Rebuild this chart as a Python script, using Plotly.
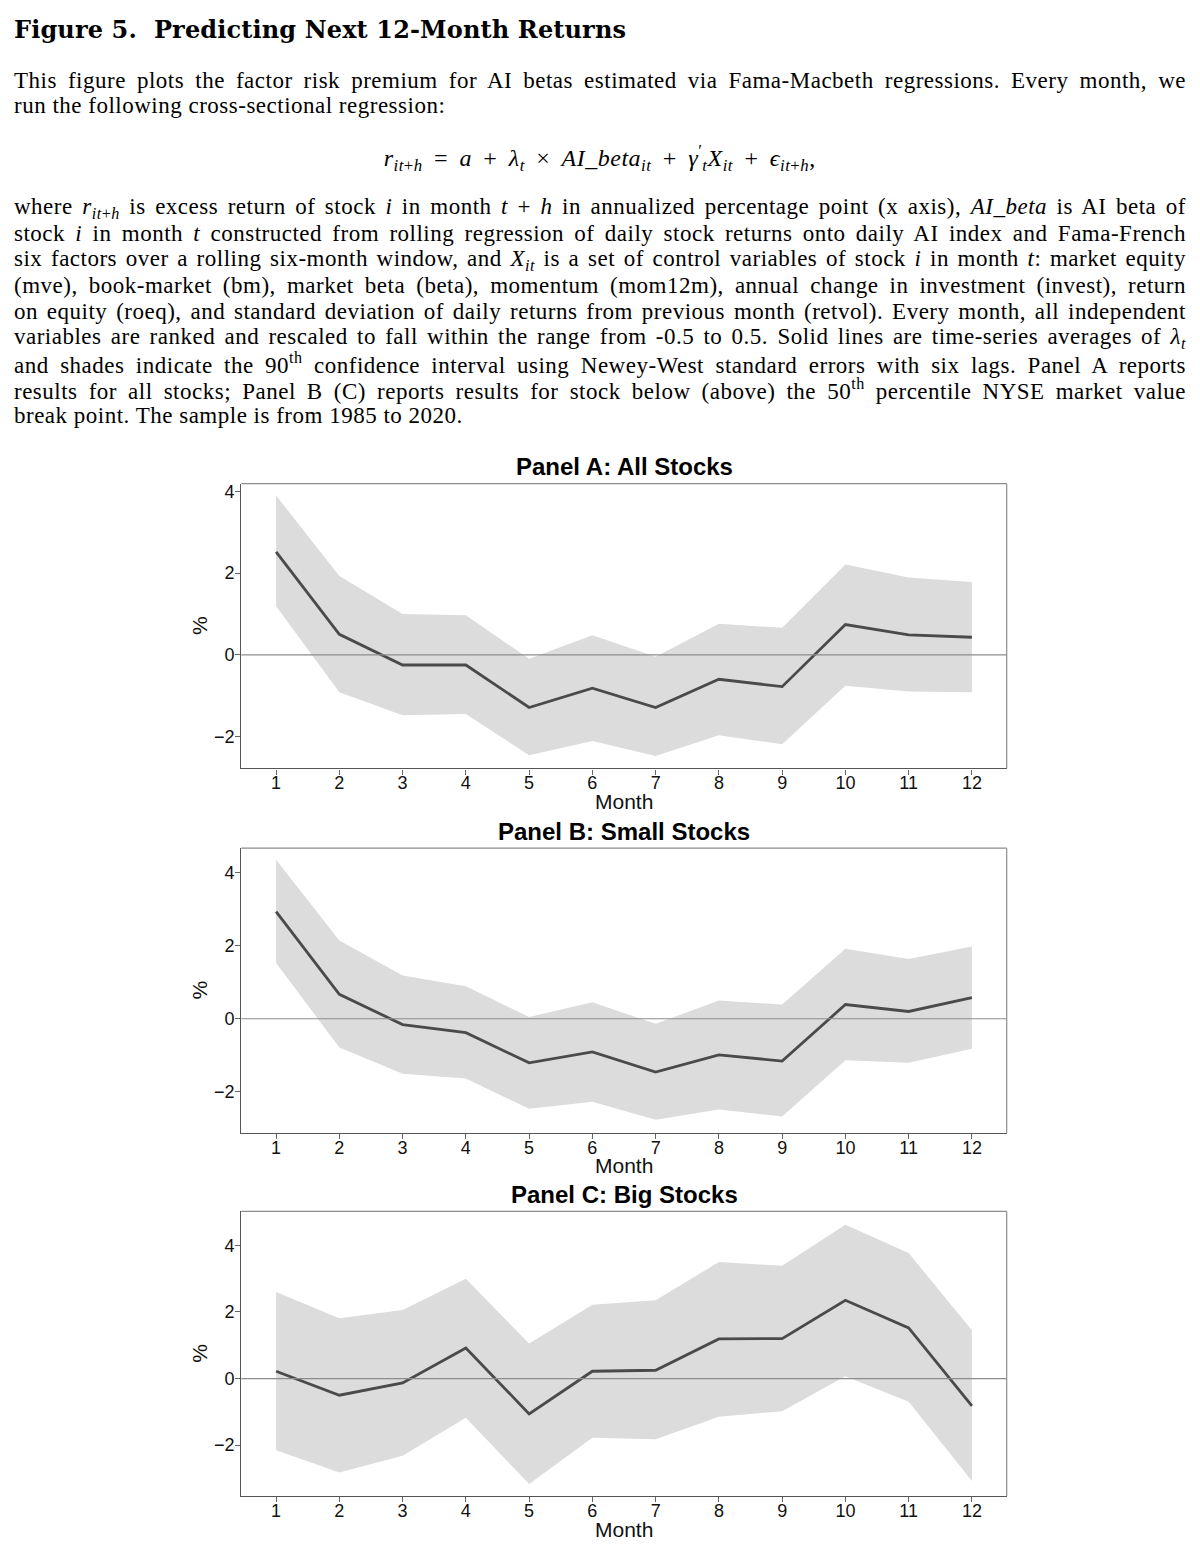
import json
import plotly.graph_objects as go

# ---------------- data ----------------
months = list(range(1, 13))
month_labels = [str(m) for m in months]
y_ticks = [-2, 0, 2, 4]

panel_titles = ["Panel A: All Stocks", "Panel B: Small Stocks", "Panel C: Big Stocks"]

a_mean = [2.52, 0.50, -0.25, -0.25, -1.29, -0.82, -1.29, -0.60, -0.78, 0.74, 0.49, 0.43]
a_upper = [3.90, 1.93, 1.00, 0.97, -0.10, 0.48, -0.05, 0.76, 0.66, 2.21, 1.89, 1.78]
a_lower = [1.19, -0.92, -1.48, -1.45, -2.46, -2.11, -2.48, -1.97, -2.19, -0.76, -0.90, -0.92]

b_mean = [2.94, 0.67, -0.16, -0.38, -1.21, -0.91, -1.46, -0.99, -1.16, 0.39, 0.20, 0.58]
b_upper = [4.36, 2.15, 1.19, 0.89, 0.05, 0.45, -0.14, 0.50, 0.39, 1.92, 1.64, 1.98]
b_lower = [1.53, -0.79, -1.51, -1.64, -2.47, -2.28, -2.77, -2.49, -2.68, -1.14, -1.21, -0.82]

c_mean = [0.22, -0.50, -0.13, 0.92, -1.06, 0.22, 0.25, 1.19, 1.20, 2.35, 1.52, -0.82]
c_upper = [2.60, 1.81, 2.06, 3.00, 1.05, 2.22, 2.35, 3.50, 3.39, 4.62, 3.77, 1.45]
c_lower = [-2.15, -2.82, -2.32, -1.18, -3.17, -1.78, -1.82, -1.15, -0.98, 0.07, -0.70, -3.08]

y_ranges = [[-2.78, 4.19], [-3.13, 4.68], [-3.53, 5.02]]
x_range = [0.45, 12.55]

caption_title = "Figure 5.  Predicting Next 12-Month Returns"
para1 = [
    "This figure plots the factor risk premium for AI betas estimated via Fama-Macbeth regressions. Every month, we",
    "run the following cross-sectional regression:",
]
equation = ("<i>r</i><sub><i>it</i>+<i>h</i></sub> = <i>a</i> + <i>λ</i><sub><i>t</i></sub> × "
            "<i>AI_beta</i><sub><i>it</i></sub> + <i>γ</i><sup>′</sup><sub><i>t</i></sub><i>X</i><sub><i>it</i></sub>"
            " + <i>ϵ</i><sub><i>it</i>+<i>h</i></sub>,")
para2 = [
    "where <i>r</i><sub><i>it</i>+<i>h</i></sub> is excess return of stock <i>i</i> in month <i>t</i> + <i>h</i> in annualized percentage point (x axis), <i>AI_beta</i> is AI beta of",
    "stock <i>i</i> in month <i>t</i> constructed from rolling regression of daily stock returns onto daily AI index and Fama-French",
    "six factors over a rolling six-month window, and <i>X</i><sub><i>it</i></sub> is a set of control variables of stock <i>i</i> in month <i>t</i>: market equity",
    "(mve), book-market (bm), market beta (beta), momentum (mom12m), annual change in investment (invest), return",
    "on equity (roeq), and standard deviation of daily returns from previous month (retvol). Every month, all independent",
    "variables are ranked and rescaled to fall within the range from -0.5 to 0.5. Solid lines are time-series averages of <i>λ</i><sub><i>t</i></sub>",
    "and shades indicate the 90<sup>th</sup> confidence interval using Newey-West standard errors with six lags. Panel A reports",
    "results for all stocks; Panel B (C) reports results for stock below (above) the 50<sup>th</sup> percentile NYSE market value",
    "break point. The sample is from 1985 to 2020.",
]

panels = [(a_mean, a_upper, a_lower), (b_mean, b_upper, b_lower), (c_mean, c_upper, c_lower)]

# ---------------- layout geometry (pixels) ----------------
W, H = 1200, 1552
box_left, box_right = 241.3, 1006.7
box_tops = [482.3, 847.3, 1211.0]
box_h = 285.0
text_left, text_right = 14, 1186

def py(v):
    return 1 - v / H

def px(v):
    return v / W

SERIF = "Liberation Serif"
SANS = "Liberation Sans"
shade = "#dcdcdc"
line_col = "#4a4a4a"

fig = go.Figure()
annotations = []
shapes = []
spacing = {}   # annotation index -> [letter spacing px, justify mode, target width]

for i, (mean, upper, lower) in enumerate(panels):
    xa = "x" if i == 0 else f"x{i+1}"
    ya = "y" if i == 0 else f"y{i+1}"
    fig.add_trace(go.Scatter(x=months, y=lower, mode="lines", line=dict(width=0, color=shade),
                             xaxis=xa, yaxis=ya, showlegend=False, hoverinfo="skip"))
    fig.add_trace(go.Scatter(x=months, y=upper, mode="lines", line=dict(width=0, color=shade),
                             fill="tonexty", fillcolor=shade,
                             xaxis=xa, yaxis=ya, showlegend=False, hoverinfo="skip"))
    fig.add_trace(go.Scatter(x=months, y=mean, mode="lines", line=dict(width=2.8, color=line_col),
                             xaxis=xa, yaxis=ya, showlegend=False))

    top = box_tops[i]
    bot = top + box_h
    xkey = "xaxis" if i == 0 else f"xaxis{i+1}"
    ykey = "yaxis" if i == 0 else f"yaxis{i+1}"
    fig.layout[xkey] = dict(
        domain=[px(box_left), px(box_right)], anchor=ya, range=x_range,
        tickmode="array", tickvals=months, ticktext=month_labels,
        showgrid=False, zeroline=False, showline=True, linecolor="#555555", linewidth=1.4,
        ticks="outside", ticklen=5, tickcolor="#666666", tickwidth=1,
        ticklabelstandoff=-7,
        tickfont=dict(family=SANS, size=18, color="#111111"),
    )
    fig.layout[ykey] = dict(
        domain=[py(bot), py(top)], anchor=xa, range=y_ranges[i],
        tickmode="array", tickvals=y_ticks,
        showgrid=False, zeroline=False, showline=True, linecolor="#555555", linewidth=1.4,
        ticks="outside", ticklen=5, tickcolor="#666666", tickwidth=1,
        ticklabelstandoff=-3,
        tickfont=dict(family=SANS, size=18, color="#111111"),
    )
    # zero reference line
    shapes.append(dict(type="line", xref=f"{xa} domain", yref=ya, x0=0, x1=1, y0=0, y1=0,
                       line=dict(color="#8c8c8c", width=1.2), layer="above"))
    # top and right frame
    shapes.append(dict(type="line", xref=f"{xa} domain", yref=f"{ya} domain", x0=0, x1=1, y0=1, y1=1,
                       line=dict(color="#8c8c8c", width=1.2), layer="above"))
    shapes.append(dict(type="line", xref=f"{xa} domain", yref=f"{ya} domain", x0=1, x1=1, y0=0, y1=1,
                       line=dict(color="#8c8c8c", width=1.2), layer="above"))

    cx = (box_left + box_right) / 2
    annotations.append(dict(text=f"<b>{panel_titles[i]}</b>", x=px(cx), y=py(top - 17),
                            xref="paper", yref="paper", xanchor="center", yanchor="middle",
                            showarrow=False, font=dict(family=SANS, size=24, color="#000000")))
    annotations.append(dict(text="Month", x=px(cx), y=py(bot + 33),
                            xref="paper", yref="paper", xanchor="center", yanchor="middle",
                            showarrow=False, font=dict(family=SANS, size=21, color="#111111")))
    annotations.append(dict(text="%", x=px(200), y=py(top + box_h / 2), textangle=-90,
                            xref="paper", yref="paper", xanchor="center", yanchor="middle",
                            showarrow=False, font=dict(family=SANS, size=21, color="#111111")))

# caption text
LS = 0.5
spacing[len(annotations)] = [0, "letter", 612]
annotations.append(dict(text=f"<b>{caption_title}</b>", x=px(text_left - 2), y=py(28),
                        xref="paper", yref="paper", xanchor="left", yanchor="middle", align="left",
                        showarrow=False, font=dict(family="DejaVu Serif", size=24, color="#000000")))
line_y = [79, 104]
for k, (t, yy) in enumerate(zip(para1, line_y)):
    if k < len(para1) - 1:
        spacing[len(annotations)] = [LS, "word", text_right - text_left]
    else:
        spacing[len(annotations)] = [LS, "none", 0]
    annotations.append(dict(text=t, x=px(text_left - 2), y=py(yy), xref="paper", yref="paper",
                            xanchor="left", yanchor="middle", align="left", showarrow=False,
                            font=dict(family=SERIF, size=23, color="#000000")))
spacing[len(annotations)] = [LS, "word", 432]
annotations.append(dict(text=equation, x=px(599), y=py(156), xref="paper", yref="paper",
                        xanchor="center", yanchor="middle", align="center", showarrow=False,
                        font=dict(family=SERIF, size=24, color="#000000")))
for k, t in enumerate(para2):
    if k < len(para2) - 1:
        spacing[len(annotations)] = [LS, "word", text_right - text_left]
    else:
        spacing[len(annotations)] = [LS, "none", 0]
    annotations.append(dict(text=t, x=px(text_left - 2), y=py(206 + 26 * k), xref="paper", yref="paper",
                            xanchor="left", yanchor="middle", align="left", showarrow=False,
                            font=dict(family=SERIF, size=23, color="#000000")))

fig.update_layout(
    width=W, height=H, margin=dict(l=0, r=0, t=0, b=0),
    paper_bgcolor="white", plot_bgcolor="white",
    annotations=annotations, shapes=shapes, showlegend=False,
)

# justify caption lines like the typeset original (adjusts spacing of the real SVG text)
post_js = """
document.body.style.margin = '0px';
var gd = document.getElementById('{plot_id}');
var spec = SPEC;
Object.keys(spec).forEach(function(k) {
  var g = gd.querySelector('g.annotation[data-index="' + k + '"]');
  if (!g) return;
  var t = g.querySelector('text.annotation-text');
  if (!t) return;
  var ls = spec[k][0], mode = spec[k][1], target = spec[k][2];
  if (ls) t.style.letterSpacing = ls + 'px';
  var w = t.getComputedTextLength();
  if (mode === 'word') {
    var n = (t.textContent.match(/ /g) || []).length;
    if (n > 0 && target > w) t.style.wordSpacing = ((target - w) / n) + 'px';
  } else if (mode === 'letter') {
    var m = t.textContent.length - 1;
    if (m > 0) t.style.letterSpacing = ((target - w) / m) + 'px';
  }
});
""".replace("SPEC", json.dumps(spacing))

fig.write_html("out.html", config={"displayModeBar": False}, post_script=post_js)
